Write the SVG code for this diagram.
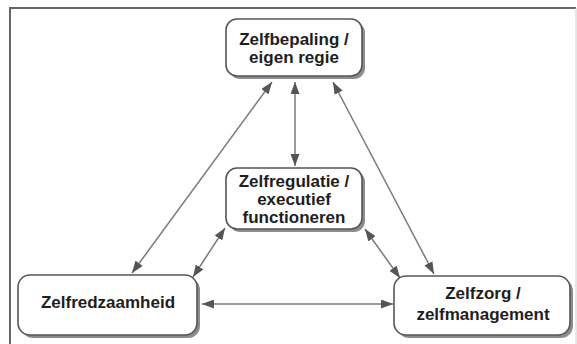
<svg xmlns="http://www.w3.org/2000/svg" width="577" height="344" viewBox="0 0 577 344">
<defs>
<style>
.box{fill:#fff;stroke:#555;stroke-width:1.6}
.shadow{fill:#8c8c8c}
.lbl{font-family:"Liberation Sans",Arial,sans-serif;font-weight:bold;font-size:17px;fill:#1e1e1e;text-anchor:middle}
.conn{stroke:#7a7a7a;stroke-width:1.5;fill:none;marker-start:url(#ah);marker-end:url(#ah)}
</style>
<marker id="ah" viewBox="0 0 12 9" refX="12" refY="4.5" markerWidth="12" markerHeight="9" markerUnits="userSpaceOnUse" orient="auto-start-reverse">
<path d="M0,0 L12,4.5 L0,9 z" fill="#555"/>
</marker>
</defs>
<rect width="577" height="344" fill="#fff"/>
<path d="M10,344 V8 H576" fill="none" stroke="#666" stroke-width="2"/>
<path d="M576,8 V344" fill="none" stroke="#ccc" stroke-width="1"/>
<g id="connectors">
<line class="conn" x1="295" y1="82" x2="295" y2="166"/>
<line class="conn" x1="272" y1="82" x2="132" y2="273"/>
<line class="conn" x1="333" y1="82" x2="434" y2="274"/>
<line class="conn" x1="225" y1="228" x2="193" y2="277"/>
<line class="conn" x1="365" y1="229" x2="400" y2="278"/>
<line class="conn" x1="202" y1="304" x2="393" y2="304"/>
</g>
<g id="zelfbepaling">
<rect class="shadow" x="229" y="22" width="136" height="57" rx="11"/>
<rect class="box" x="226" y="19" width="136" height="57" rx="11"/>
<text class="lbl" x="294" y="45">Zelfbepaling /</text>
<text class="lbl" x="294" y="63">eigen regie</text>
</g>
<g id="zelfregulatie">
<rect class="shadow" x="229" y="171" width="136" height="61" rx="11"/>
<rect class="box" x="226" y="168" width="136" height="61" rx="11"/>
<text class="lbl" x="294" y="187">Zelfregulatie /</text>
<text class="lbl" x="294" y="205">executief</text>
<text class="lbl" x="294" y="223">functioneren</text>
</g>
<g id="zelfredzaamheid">
<rect class="shadow" x="21" y="278" width="179" height="60" rx="12"/>
<rect class="box" x="18" y="275" width="179" height="60" rx="12"/>
<text class="lbl" x="108" y="308">Zelfredzaamheid</text>
</g>
<g id="zelfzorg">
<rect class="shadow" x="397" y="279" width="176" height="59" rx="12"/>
<rect class="box" x="394" y="276" width="176" height="59" rx="12"/>
<text class="lbl" x="483" y="299">Zelfzorg /</text>
<text class="lbl" x="483" y="320">zelfmanagement</text>
</g>
</svg>
